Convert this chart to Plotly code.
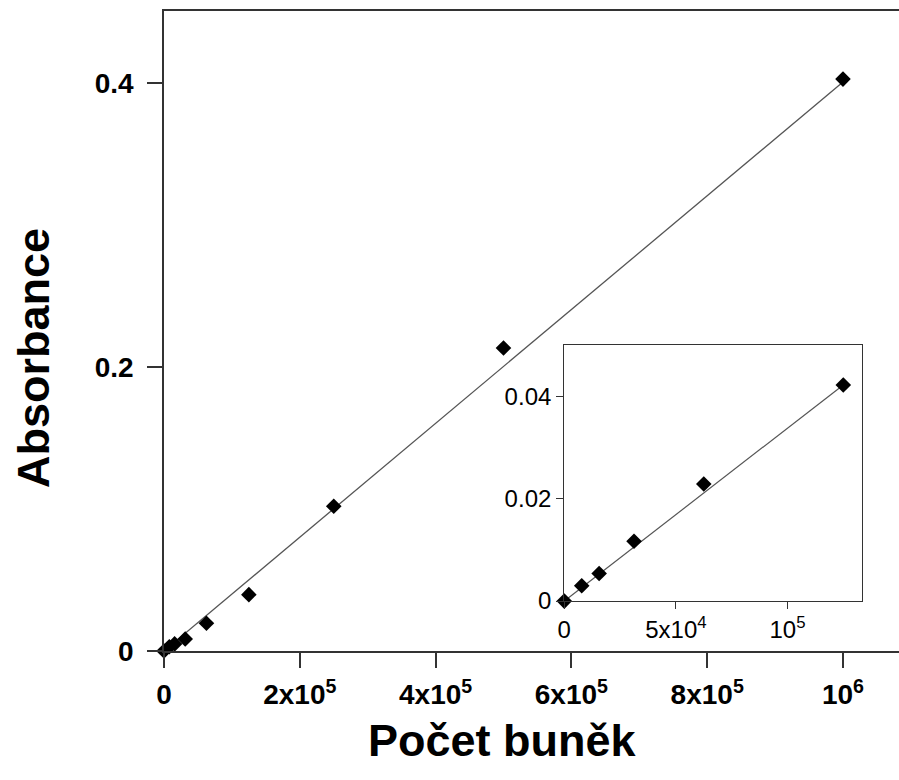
import plotly.graph_objects as go

# Main chart data (cell count vs absorbance)
main_x = [0, 7812, 15625, 31250, 62500, 125000, 250000, 500000, 1000000]
main_y = [0.0, 0.003, 0.005, 0.0085, 0.0196, 0.0397, 0.102, 0.2135, 0.403]
main_fit_x = [0, 1000000]
main_fit_y = [0.0, 0.401]

# Inset data (low cell counts)
inset_x = [0, 7812, 15625, 31250, 62500, 125000]
inset_y = [0.0, 0.003, 0.0054, 0.0117, 0.0229, 0.0423]
inset_fit_x = [0, 125000]
inset_fit_y = [0.0, 0.0423]

main_xticks = [0, 200000, 400000, 600000, 800000, 1000000]
main_xticklabels = ["0", "2x10<sup>5</sup>", "4x10<sup>5</sup>", "6x10<sup>5</sup>",
                    "8x10<sup>5</sup>", "10<sup>6</sup>"]
main_yticks = [0, 0.2, 0.4]
main_yticklabels = ["0", "0.2", "0.4"]
inset_xticks = [0, 50000, 100000]
inset_xticklabels = ["0", "5x10<sup>4</sup>", "10<sup>5</sup>"]
inset_yticks = [0, 0.02, 0.04]
inset_yticklabels = ["0", "0.02", "0.04"]

FONT = "Liberation Sans, Arial, sans-serif"
LINE = "#333333"

fig = go.Figure()
fig.add_trace(go.Scatter(x=main_fit_x, y=main_fit_y, mode="lines",
                         line=dict(color="#555555", width=1.3), xaxis="x", yaxis="y",
                         showlegend=False, hoverinfo="skip", cliponaxis=False))
fig.add_trace(go.Scatter(x=main_x, y=main_y, mode="markers",
                         marker=dict(symbol="diamond", size=12, color="black"),
                         xaxis="x", yaxis="y", showlegend=False, cliponaxis=False))
fig.add_trace(go.Scatter(x=inset_fit_x, y=inset_fit_y, mode="lines",
                         line=dict(color="#555555", width=1.2), xaxis="x2", yaxis="y2",
                         showlegend=False, hoverinfo="skip", cliponaxis=False))
fig.add_trace(go.Scatter(x=inset_x, y=inset_y, mode="markers",
                         marker=dict(symbol="diamond", size=12, color="black"),
                         xaxis="x2", yaxis="y2", showlegend=False, cliponaxis=False))

fig.update_layout(
    width=899, height=780,
    margin=dict(l=164, r=0, t=11, b=129),
    paper_bgcolor="white", plot_bgcolor="white",
    font=dict(family=FONT, color="black"),
    xaxis=dict(range=[0, 1082500], domain=[0, 1], showgrid=False, zeroline=False,
               showline=True, linecolor=LINE, linewidth=1.5, mirror=True,
               ticks="outside", ticklen=15, tickwidth=1.5, tickcolor=LINE,
               tickvals=main_xticks, ticktext=main_xticklabels,
               tickfont=dict(size=28, family=FONT, weight="bold"), ticklabelstandoff=3),
    yaxis=dict(range=[0, 0.451], domain=[0, 1], showgrid=False, zeroline=False,
               showline=True, linecolor=LINE, linewidth=1.5,
               ticks="outside", ticklen=15, tickwidth=1.5, tickcolor=LINE,
               tickvals=main_yticks, ticktext=main_yticklabels,
               tickfont=dict(size=28, family=FONT, weight="bold"), ticklabelstandoff=8),
    xaxis2=dict(range=[0, 133500], domain=[0.5446, 0.950], anchor="y2",
                showgrid=False, zeroline=False, showline=True, mirror=True,
                linecolor=LINE, linewidth=1.3, ticks="outside", ticklen=7, tickwidth=1.3,
                tickcolor=LINE, tickvals=inset_xticks, ticktext=inset_xticklabels,
                tickfont=dict(size=24, family=FONT), ticklabelstandoff=0),
    yaxis2=dict(range=[0, 0.0501], domain=[0.078, 0.478], anchor="x2",
                showgrid=False, zeroline=False, showline=True, mirror=True,
                linecolor=LINE, linewidth=1.3, ticks="outside", ticklen=7, tickwidth=1.3,
                tickcolor=LINE, tickvals=inset_yticks, ticktext=inset_yticklabels,
                tickfont=dict(size=24, family=FONT), ticklabelstandoff=0),
)

fig.add_annotation(text="<b>Počet buněk</b>", xref="paper", yref="paper",
                   x=(502 - 164) / 735, y=(651 - 740) / 640, showarrow=False,
                   xanchor="center", yanchor="middle",
                   font=dict(size=45, family=FONT, color="black"))
fig.add_annotation(text="<b>Absorbance</b>", xref="paper", yref="paper",
                   x=(33 - 164) / 735, y=(651 - 358) / 640, showarrow=False,
                   textangle=-90, xanchor="center", yanchor="middle",
                   font=dict(size=45, family=FONT, color="black"))

fig.write_html("out.html")
